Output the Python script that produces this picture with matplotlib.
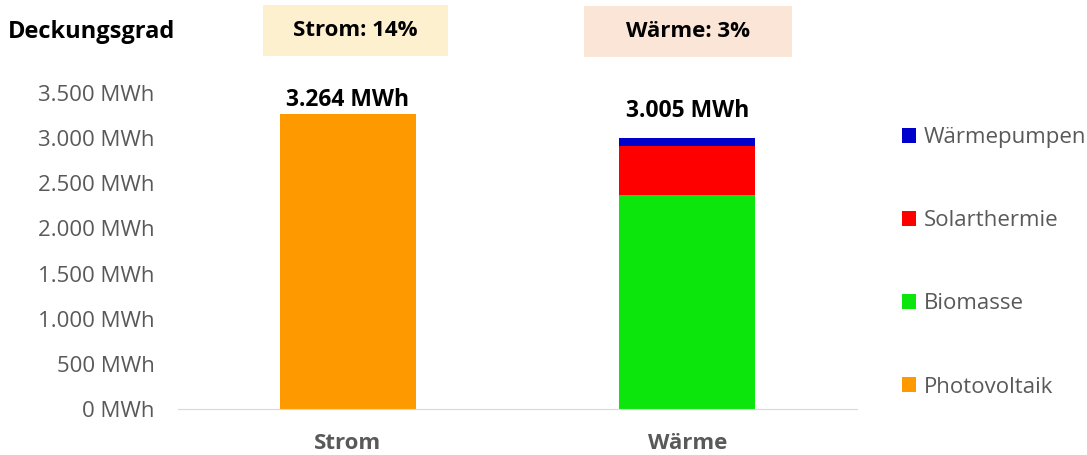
import matplotlib.pyplot as plt
from matplotlib.patches import Rectangle
import numpy as np

categories = ["Strom", "Wärme"]
series = ["Photovoltaik", "Biomasse", "Solarthermie", "Wärmepumpen"]
values = {
    "Photovoltaik": [3264, 0],
    "Biomasse": [0, 2370],
    "Solarthermie": [0, 540],
    "Wärmepumpen": [0, 95],
}
colors = {
    "Photovoltaik": "#FF9900",
    "Biomasse": "#0CE60C",
    "Solarthermie": "#FF0000",
    "Wärmepumpen": "#0000CC",
}
totals = [3264, 3005]
coverage = ["Strom: 14%", "Wärme: 3%"]
coverage_colors = ["#FDF0CF", "#FBE5D6"]
yticks = [0, 500, 1000, 1500, 2000, 2500, 3000, 3500]

plt.rcParams["font.family"] = ["Open Sans", "DejaVu Sans"]
GREY = "#595959"

W, H = 1087, 455
fig = plt.figure(figsize=(W / 100, H / 100), dpi=100)
ax = fig.add_axes([178 / W, 1 - 409 / H, (857 - 178) / W, (409 - 93) / H])

x = np.arange(len(categories))
bottom = np.zeros(len(categories))
handles = []
for s in series:
    v = np.array(values[s], dtype=float)
    b = ax.bar(x, v, width=0.4, bottom=bottom, color=colors[s], label=s)
    handles.append(b)
    bottom += v

# excel puts the stacked total label a bit higher than the single-bar one
label_offsets = [10, 19]  # points
for xi, t, off in zip(x, totals, label_offsets):
    ax.annotate(f"{t:,} MWh".replace(",", "."), (xi, t), xytext=(0, off),
                textcoords="offset points", ha="center", va="center",
                fontsize=16.5, fontweight="bold", color="black")

ax.set_xlim(-0.5, 1.5)
ax.set_ylim(0, 3500)
ax.set_yticks(yticks)
ax.set_yticklabels([f"{v:,} MWh".replace(",", ".") for v in yticks])
ax.tick_params(axis="y", length=0, labelsize=16, labelcolor=GREY, pad=17)
ax.set_xticks(x)
ax.set_xticklabels(categories, fontweight="bold")
ax.tick_params(axis="x", length=0, labelsize=16, labelcolor=GREY, pad=17)
for sp in ["top", "right", "left"]:
    ax.spines[sp].set_visible(False)
ax.spines["bottom"].set_color("#D9D9D9")

leg = fig.legend(handles[::-1], series[::-1], loc="upper left",
                 bbox_to_anchor=(893 / W, 1 - 118 / H), frameon=False,
                 fontsize=16, labelcolor=GREY, handlelength=0.65, handleheight=0.65,
                 handletextpad=0.35, labelspacing=2.8, borderaxespad=0)

fig.text(8 / W, 1 - 32 / H, "Deckungsgrad", ha="left", va="center",
         fontsize=17, fontweight="bold", color="black")
boxes = [(263, 5, 185, 51), (584, 6, 208, 51)]
for (bx, by, bw, bh), label, c in zip(boxes, coverage, coverage_colors):
    fig.patches.append(Rectangle((bx / W, 1 - (by + bh) / H), bw / W, bh / H,
                                 transform=fig.transFigure, facecolor=c,
                                 edgecolor="none", zorder=0))
    fig.text((bx + bw / 2) / W, 1 - (by + bh / 2) / H, label, ha="center",
             va="center", fontsize=16, fontweight="bold", color="black")

fig.savefig("out.png", dpi=100)
